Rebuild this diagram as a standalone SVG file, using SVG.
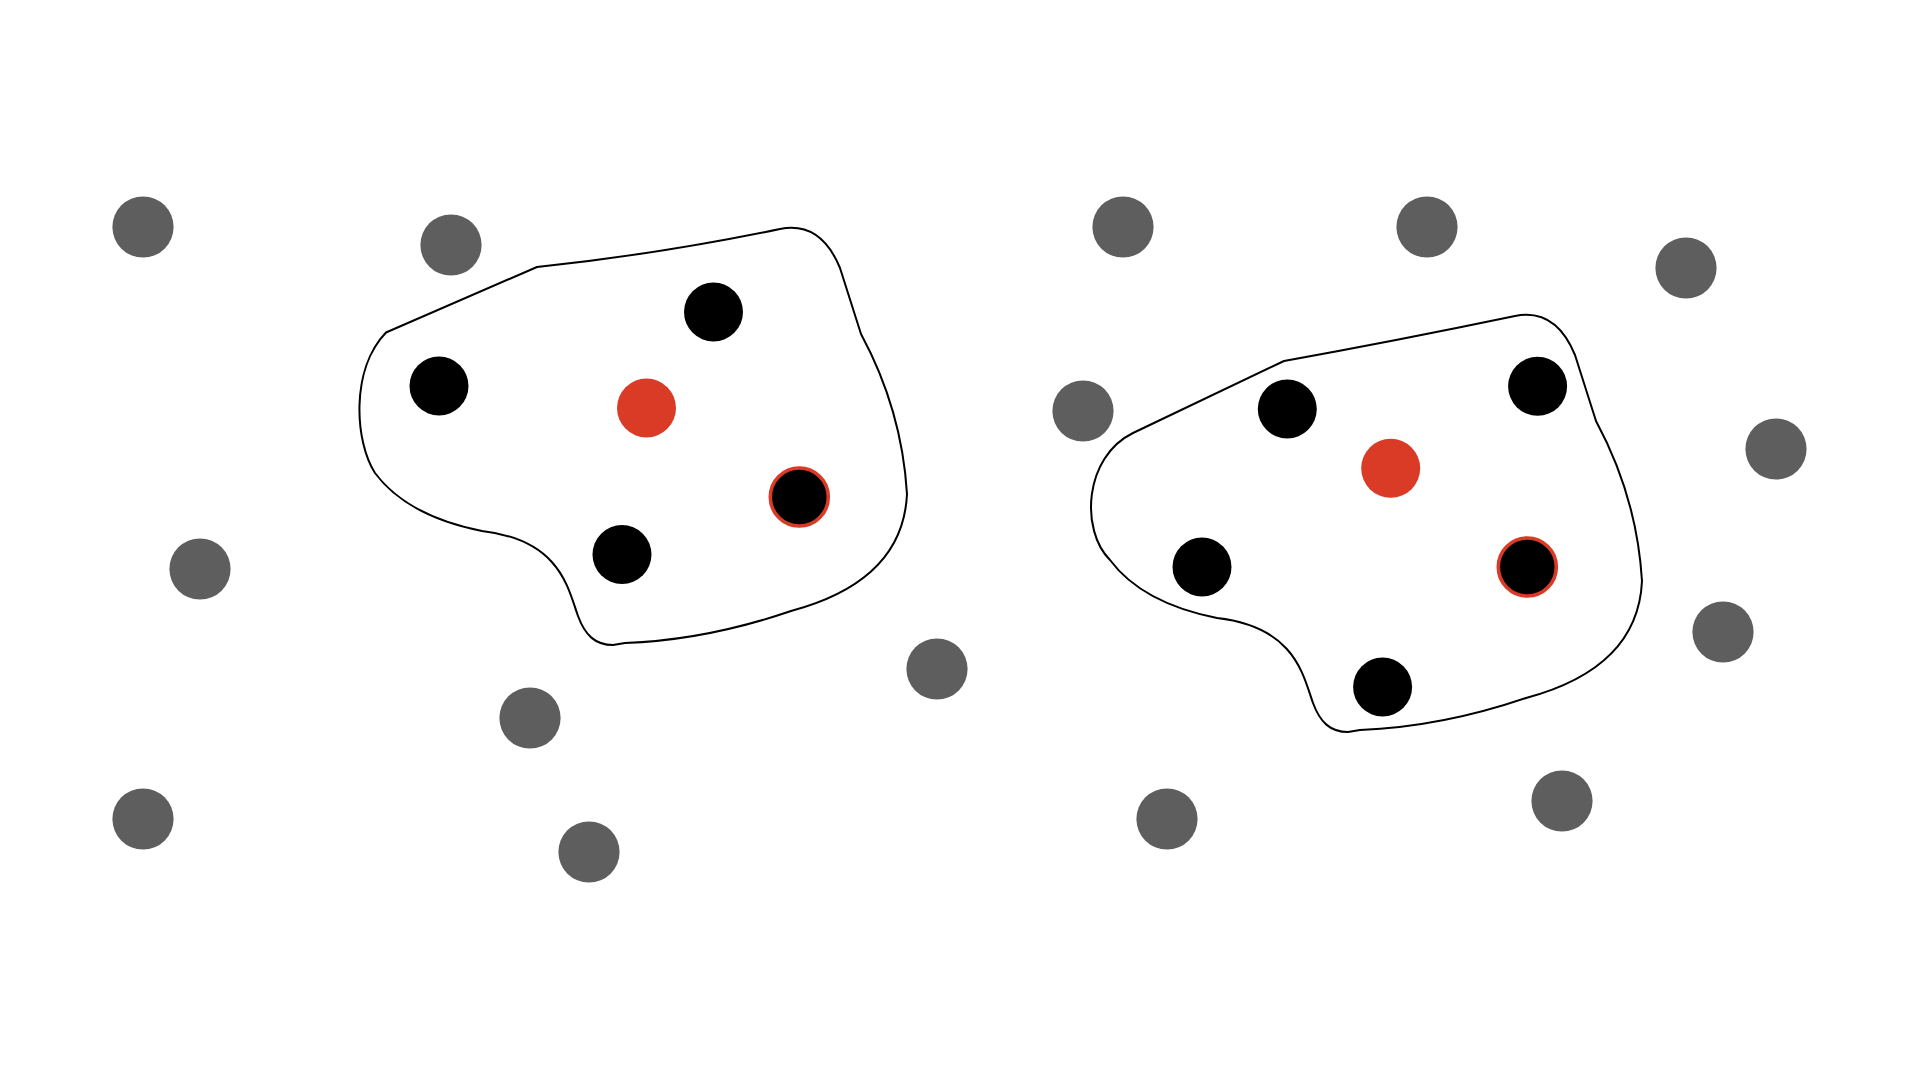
<svg xmlns="http://www.w3.org/2000/svg" width="1920" height="1080" viewBox="0 0 1920 1080">
<style>
.blob{fill:none;stroke:#000;stroke-width:2;stroke-linejoin:round}
.g{fill:#5e5e5e}
.b{fill:#000}
.r{fill:#d93b27}
.br{fill:#000;stroke:#d93b27;stroke-width:3.6}
</style>
<rect width="1920" height="1080" fill="#fff"/>
<g id="regions">
<path id="region-left" class="blob" d="M 386,332.5 L 537,267 Q 660,254 780,229 C 805,224 826,234 840,268 L 861,334 Q 902,410 907,494 Q 903,581 791,611 Q 706,640 625,643 L 613,645 C 595,645 585,635 578,616 C 568,588 560,540 482,531 Q 407,516 375,473 C 355,442 350,370 386,332.5 Z"/>
<path id="region-right" class="blob" d="M 1133,433 L 1284,361 Q 1395,341 1515,316 C 1540,311 1561,321 1575,355 L 1596,421 Q 1637,497 1642,581 Q 1638,668 1526,698 Q 1441,727 1360,730 L 1348,732 C 1330,732 1320,722 1313,703 C 1303,675 1295,627 1217,618 Q 1142,603 1110,560 C 1080,530 1084,457 1133,433 Z"/>
</g>
<g id="gray-nodes">
<circle id="g1" class="g" cx="143" cy="227" r="30.6"/>
<circle id="g2" class="g" cx="451" cy="245" r="30.6"/>
<circle id="g3" class="g" cx="200" cy="569" r="30.6"/>
<circle id="g4" class="g" cx="143" cy="819" r="30.6"/>
<circle id="g5" class="g" cx="530" cy="718" r="30.6"/>
<circle id="g6" class="g" cx="589" cy="852" r="30.6"/>
<circle id="g7" class="g" cx="937" cy="669" r="30.6"/>
<circle id="g8" class="g" cx="1123" cy="227" r="30.6"/>
<circle id="g9" class="g" cx="1427" cy="227" r="30.6"/>
<circle id="g10" class="g" cx="1686" cy="268" r="30.6"/>
<circle id="g11" class="g" cx="1083" cy="411" r="30.6"/>
<circle id="g12" class="g" cx="1776" cy="449" r="30.6"/>
<circle id="g13" class="g" cx="1723" cy="632" r="30.6"/>
<circle id="g14" class="g" cx="1562" cy="801" r="30.6"/>
<circle id="g15" class="g" cx="1167" cy="819" r="30.6"/>
</g>
<g id="left-nodes">
<circle id="l1" class="b" cx="713.5" cy="312" r="29.5"/>
<circle id="l2" class="b" cx="439" cy="386" r="29.5"/>
<circle id="l3" class="r" cx="646.5" cy="408" r="29.5"/>
<circle id="l4" class="br" cx="799.3" cy="497" r="29"/>
<circle id="l5" class="b" cx="622" cy="554.5" r="29.5"/>
</g>
<g id="right-nodes">
<circle id="r1" class="b" cx="1287.3" cy="409" r="29.5"/>
<circle id="r2" class="b" cx="1537.6" cy="386.3" r="29.5"/>
<circle id="r3" class="r" cx="1390.7" cy="468.3" r="29.5"/>
<circle id="r4" class="b" cx="1202" cy="567" r="29.5"/>
<circle id="r5" class="br" cx="1527.3" cy="567" r="29"/>
<circle id="r6" class="b" cx="1382.6" cy="687" r="29.5"/>
</g>
<g id="connectors"/>
</svg>
